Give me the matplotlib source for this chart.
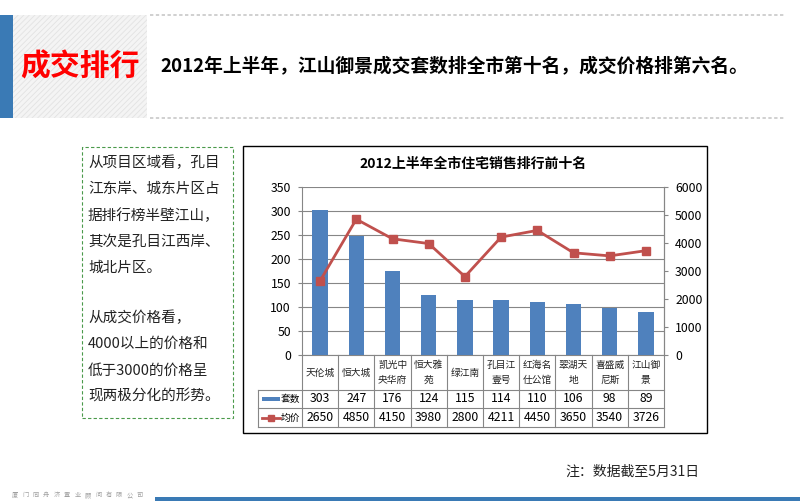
import matplotlib
matplotlib.use("Agg")
import matplotlib.pyplot as plt
from matplotlib.patches import Rectangle
from matplotlib.lines import Line2D
from matplotlib.transforms import blended_transform_factory

plt.rcParams['font.family'] = ['Noto Sans CJK SC', 'DejaVu Sans']
plt.rcParams['hatch.linewidth'] = 0.6

# 数据
projects = ['天伦城', '恒大城', '凯光中\n央华府', '恒大雅\n苑', '绿江南',
            '孔目江\n壹号', '红海名\n仕公馆', '翠湖天\n地', '喜盛威\n尼斯', '江山御\n景']
units = [303, 247, 176, 124, 115, 114, 110, 106, 98, 89]
prices = [2650, 4850, 4150, 3980, 2800, 4211, 4450, 3650, 3540, 3726]
left_ticks = [0, 50, 100, 150, 200, 250, 300, 350]
right_ticks = [0, 1000, 2000, 3000, 4000, 5000, 6000]

W, H = 800, 501
BLUE = '#4f81bd'
RED = '#c0504d'
GRID = '#868686'


def fx(px):
    return px / W


def fy(py):
    return 1 - py / H


fig = plt.figure(figsize=(8, 5.01), dpi=100)
fig.patch.set_facecolor('white')

# 页眉
fig.patches.append(Rectangle((fx(0), fy(118)), fx(13), 103 / H, transform=fig.transFigure,
                             facecolor='#3a7ab5', edgecolor='none'))
fig.patches.append(Rectangle((fx(13), fy(118)), fx(134), 103 / H, transform=fig.transFigure,
                             facecolor='#f4f4f4', edgecolor='#e2e2e2', hatch='//////', linewidth=0))
fig.text(fx(80), fy(66), '成交排行', color='#ff0000', fontsize=21.5, fontweight='heavy',
         ha='center', va='center')
for yy in (15, 118):
    fig.lines.append(Line2D([fx(150), fx(785)], [fy(yy), fy(yy)], transform=fig.transFigure,
                            color='#c8c8c8', lw=1.2, linestyle=(0, (2, 1.5))))
fig.text(fx(160), fy(66), '2012年上半年，江山御景成交套数排全市第十名，成交价格排第六名。',
         fontsize=13.5, fontweight='bold', ha='left', va='center', color='black')

# 左侧说明框
fig.patches.append(Rectangle((fx(82), fy(418)), fx(151), 271 / H, transform=fig.transFigure,
                             facecolor='none', edgecolor='#4a9a4a', lw=0.8, linestyle=(0, (3, 2))))
para1 = ['从项目区域看，孔目', '江东岸、城东片区占', '据排行榜半壁江山，', '其次是孔目江西岸、', '城北片区。']
para2 = ['从成交价格看，', '4000以上的价格和', '低于3000的价格呈', '现两极分化的形势。']
for i, s in enumerate(para1):
    fig.text(fx(88), fy(163 + i * 26.3), s, fontsize=10.5, va='center', ha='left', color='#222222')
for i, s in enumerate(para2):
    fig.text(fx(88), fy(318 + i * 26.3), s, fontsize=10.5, va='center', ha='left', color='#222222')

# 图表外框
fig.patches.append(Rectangle((fx(243), fy(433)), fx(464), 287 / H, transform=fig.transFigure,
                             facecolor='none', edgecolor='black', lw=1.0))
fig.text(fx(473), fy(164), '2012上半年全市住宅销售排行前十名', fontsize=10, fontweight='bold',
         ha='center', va='center')

ax = fig.add_axes([fx(302), fy(355), fx(664 - 302), (355 - 187) / H])
ax.patch.set_alpha(0)
x = list(range(len(projects)))
ax.bar(x, units, width=0.42, color=BLUE, zorder=3)
ax.set_xlim(-0.5, len(projects) - 0.5)
ax.set_ylim(0, 350)
ax.set_yticks(left_ticks)
ax.yaxis.grid(True, color=GRID, lw=0.8, zorder=0)
ax.set_xticks([])
ax.tick_params(axis='y', labelsize=8.8, length=3, color=GRID, pad=5)
ax.spines['top'].set_visible(False)
for side in ('left', 'right', 'bottom'):
    ax.spines[side].set_color(GRID)
    ax.spines[side].set_linewidth(0.8)

ax2 = ax.twinx()
ax2.plot(x, prices, color=RED, lw=2, marker='s', markersize=6,
         markerfacecolor=RED, markeredgecolor=RED, zorder=4)
ax2.set_ylim(0, 6000)
ax2.set_yticks(right_ticks)
ax2.tick_params(axis='y', labelsize=8.8, length=3, color=GRID, pad=5)
for side in ('top', 'left', 'bottom'):
    ax2.spines[side].set_visible(False)
ax2.spines['right'].set_color(GRID)
ax2.spines['right'].set_linewidth(0.8)

# 数据表
tr = blended_transform_factory(ax.transData, fig.transFigure)
row_y = [355, 390, 408, 427]
n = len(projects)
for b in range(n + 1):
    xb = b - 0.5
    fig.lines.append(Line2D([xb, xb], [fy(355), fy(427)], transform=tr, color=GRID, lw=0.8))
for yy in row_y[1:]:
    fig.lines.append(Line2D([fx(258), fx(664)], [fy(yy), fy(yy)], transform=fig.transFigure,
                            color=GRID, lw=0.8))
fig.lines.append(Line2D([fx(258), fx(258)], [fy(390), fy(427)], transform=fig.transFigure,
                        color=GRID, lw=0.8))
for i in x:
    fig.text(i, fy(372.5), projects[i], transform=tr, ha='center', va='center',
             fontsize=7, linespacing=1.6, color='#222222')
    fig.text(i, fy(399), str(units[i]), transform=tr, ha='center', va='center', fontsize=8.8)
    fig.text(i, fy(417.5), str(prices[i]), transform=tr, ha='center', va='center', fontsize=8.8)

# 图例
fig.patches.append(Rectangle((fx(262), fy(401)), fx(18), 4 / H, transform=fig.transFigure,
                             facecolor=BLUE, edgecolor='none'))
fig.text(fx(281), fy(399), '套数', fontsize=7, va='center', ha='left')
fig.lines.append(Line2D([fx(262), fx(280)], [fy(417.5), fy(417.5)], transform=fig.transFigure,
                        color=RED, lw=2))
fig.lines.append(Line2D([fx(271)], [fy(417.5)], transform=fig.transFigure, color=RED,
                        marker='s', markersize=5))
fig.text(fx(281), fy(417.5), '均价', fontsize=7, va='center', ha='left')

# 备注与页脚
fig.text(fx(700), fy(472), '注：数据截至5月31日', fontsize=10, style='italic',
         ha='right', va='center', color='#222222')
fig.patches.append(Rectangle((fx(155), 0), fx(645), 4 / H, transform=fig.transFigure,
                             facecolor='#3a7ab5', edgecolor='none'))
company = '厦门同舟济置业顾问有限公司'
for k, ch in enumerate(company):
    fig.text(fx(15 + k * 10.4), fy(495), ch, fontsize=4.5, color='#a0a0a0',
             ha='center', va='center')

fig.savefig('out.png', dpi=100)
